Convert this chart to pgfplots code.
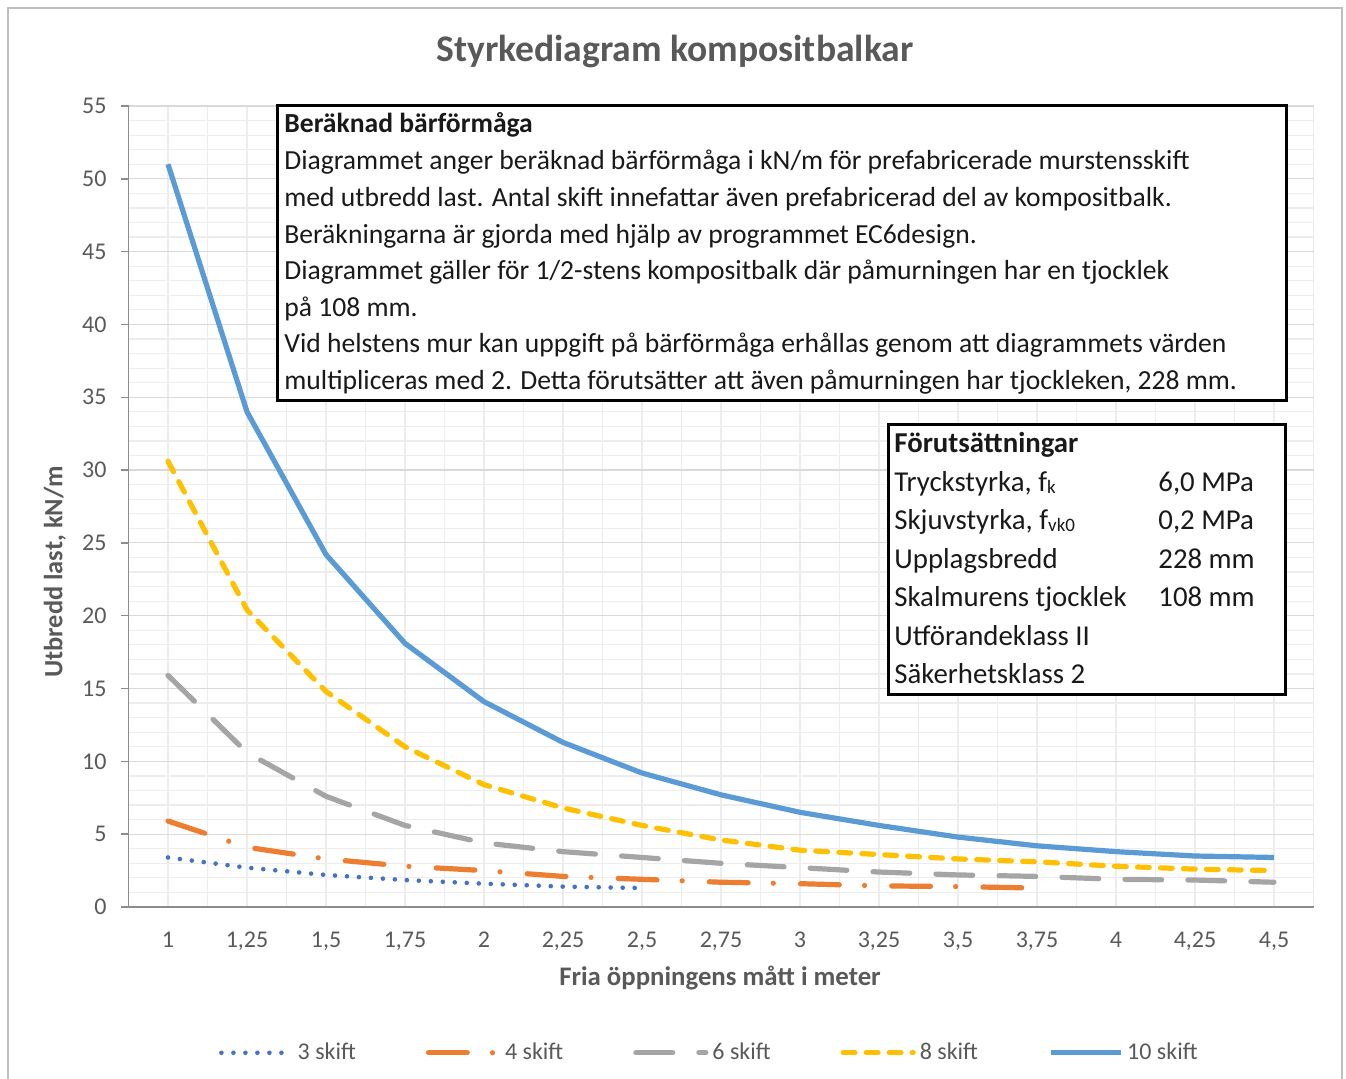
\documentclass[border=0pt]{standalone}
\usepackage{pgfplots}
\pgfplotsset{compat=1.18}
\usepackage{fontspec}
\setmainfont{Carlito}
\definecolor{cblue}{HTML}{5B9BD5}
\definecolor{cyellow}{HTML}{FFC000}
\definecolor{cgray}{HTML}{A5A5A5}
\definecolor{corange}{HTML}{ED7D31}
\definecolor{cdblue}{HTML}{4472C4}
\definecolor{txtgray}{HTML}{595959}
\definecolor{axgray}{HTML}{8C8C8C}
\definecolor{majgrid}{HTML}{D9D9D9}
\definecolor{mingrid}{HTML}{EDEDED}
\definecolor{frame}{HTML}{BFBFBF}
\newcommand\up[3]{\node[anchor=base west,inner sep=0pt,font=\fontsize{13.8}{16}\selectfont,text=black!90] at (#1pt,#2pt) {#3};}
\newcommand\lo[3]{\node[anchor=base west,inner sep=0pt,font=\fontsize{14.4}{16}\selectfont,text=black!90] at (#1pt,#2pt) {#3};}
\newcommand\sub[1]{\raisebox{-0.6pt}{\fontsize{9.5}{10}\selectfont #1}}
\begin{document}
\begin{tikzpicture}
\path[use as bounding box] (0pt,0pt) rectangle (673pt,539.5pt);
\draw[frame, line width=0.8pt] (4pt,-5pt) rectangle (671pt,535.5pt);
\begin{axis}[
  at={(64.25pt,86pt)}, anchor=south west,
  scale only axis, width=592.5pt, height=400.5pt,
  xmin=0.875, xmax=4.625, ymin=0, ymax=55,
  xtick={1,1.25,1.5,1.75,2,2.25,2.5,2.75,3,3.25,3.5,3.75,4,4.25,4.5},
  minor xtick={0.875,1.125,1.375,1.625,1.875,2.125,2.375,2.625,2.875,3.125,3.375,3.625,3.875,4.125,4.375,4.625},
  ytick={0,5,...,55},
  minor ytick={1,2,3,4,6,7,8,9,11,12,13,14,16,17,18,19,21,22,23,24,26,27,28,29,31,32,33,34,36,37,38,39,41,42,43,44,46,47,48,49,51,52,53,54},
  xticklabel style={/pgf/number format/use comma, yshift=-5.5pt},
  yticklabel style={xshift=-4pt},
  ticklabel style={font=\fontsize{12}{14}\selectfont, text=txtgray},
  /pgf/number format/assume math mode=true,
  grid=both,
  x grid style={mingrid, line width=0.6pt},
  y grid style={majgrid, line width=0.6pt},
  minor x grid style={mingrid, line width=0.6pt},
  minor y grid style={mingrid, line width=0.6pt},
  axis x line*=bottom, axis y line*=left,
  axis line style={axgray, line width=0.7pt, -},
  xtick style={draw=none},
  minor tick style={draw=none},
  ytick style={axgray, line width=0.7pt},
  tick align=outside, major tick length=3.5pt,
  legend columns=5,
  legend style={at={(0.491,-0.182)}, anchor=center, draw=none, fill=none,
    font=\fontsize{12}{14}\selectfont, text=txtgray,
    /tikz/every even column/.append style={column sep=33pt},
    /tikz/every odd column/.append style={column sep=0pt}},
  legend cell align=left,
  legend image code/.code={\draw[#1] (0pt,0pt) -- (35pt,0pt);},
]
\addplot[cdblue, line width=2.3pt, line cap=round, dash pattern=on 0pt off 6pt] coordinates {
(1,3.4)(1.25,2.7)(1.5,2.2)(1.75,1.85)(2,1.6)(2.25,1.4)(2.5,1.3)};
\addlegendentry{3 skift}
\addplot[corange, line width=2.6pt, line cap=round, dash pattern=on 19.4pt off 12.6pt on 0pt off 13.6pt] coordinates {
(1,5.9)(1.25,4.1)(1.5,3.3)(1.75,2.8)(2,2.5)(2.25,2.1)(2.5,1.9)(2.75,1.7)(3,1.6)(3.25,1.45)(3.5,1.4)(3.75,1.3)};
\addlegendentry{4 skift}
\addplot[cgray, line width=2.6pt, line cap=round, dash pattern=on 18.4pt off 13.1pt] coordinates {
(1,15.9)(1.25,10.6)(1.5,7.6)(1.75,5.6)(2,4.4)(2.25,3.8)(2.5,3.4)(2.75,3.0)(3,2.7)(3.25,2.4)(3.5,2.2)(3.75,2.1)(4,1.9)(4.25,1.85)(4.5,1.7)};
\addlegendentry{6 skift}
\addplot[cyellow, line width=2.6pt, line cap=round, dash pattern=on 5.9pt off 5.6pt] coordinates {
(1,30.6)(1.25,20.4)(1.5,14.8)(1.75,11.0)(2,8.4)(2.25,6.8)(2.5,5.6)(2.75,4.6)(3,3.9)(3.25,3.6)(3.5,3.3)(3.75,3.1)(4,2.8)(4.25,2.6)(4.5,2.5)};
\addlegendentry{8 skift}
\addplot[cblue, line width=2.6pt, line join=round] coordinates {
(1,51.0)(1.25,34.0)(1.5,24.2)(1.75,18.1)(2,14.1)(2.25,11.3)(2.5,9.2)(2.75,7.7)(3,6.5)(3.25,5.6)(3.5,4.8)(3.75,4.2)(4,3.8)(4.25,3.5)(4.5,3.4)};
\addlegendentry{10 skift}
\end{axis}
% titles
\node[font=\bfseries\fontsize{18.8}{22}\selectfont, text=txtgray] at (337.5pt,513.5pt) {Styrkediagram kompositbalkar};
\node[font=\bfseries\fontsize{13.2}{15}\selectfont, text=txtgray, rotate=90] at (27.5pt,253.5pt) {Utbredd last, kN/m};
\node[font=\bfseries\fontsize{13.4}{15}\selectfont, text=txtgray] at (360pt,50.5pt) {Fria öppningens mått i meter};
% upper box
\draw[line width=1.5pt, fill=white] (138.5pt,339pt) rectangle (643pt,486.5pt);
\up{142}{473}{\textbf{Beräknad bärförmåga}}
\up{142}{454.5}{Diagrammet anger beräknad bärförmåga i kN/m för prefabricerade murstensskift}
\up{142}{436}{med utbredd last. Antal skift innefattar även prefabricerad del av kompositbalk.}
\up{142}{417.5}{Beräkningarna är gjorda med hjälp av programmet EC6design.}
\up{142}{399.5}{Diagrammet gäller för 1/2-stens kompositbalk där påmurningen har en tjocklek}
\up{142}{381}{på 108 mm.}
\up{142}{363}{Vid helstens mur kan uppgift på bärförmåga erhållas genom att diagrammets värden}
\up{142}{344.5}{multipliceras med 2. Detta förutsätter att även påmurningen har tjockleken, 228 mm.}
% lower box
\draw[line width=1.5pt, fill=white] (444pt,192pt) rectangle (642.5pt,327pt);
\lo{447}{313}{\textbf{Förutsättningar}}
\lo{447}{293.5}{Tryckstyrka, f\sub{k}}
\lo{579}{293.5}{6,0 MPa}
\lo{447}{274.5}{Skjuvstyrka, f\sub{vk0}}
\lo{579}{274.5}{0,2 MPa}
\lo{447}{255}{Upplagsbredd}
\lo{579}{255}{228 mm}
\lo{447}{236}{Skalmurens tjocklek}
\lo{579}{236}{108 mm}
\lo{447}{216.5}{Utförandeklass II}
\lo{447}{197.5}{Säkerhetsklass 2}
\end{tikzpicture}
\end{document}
